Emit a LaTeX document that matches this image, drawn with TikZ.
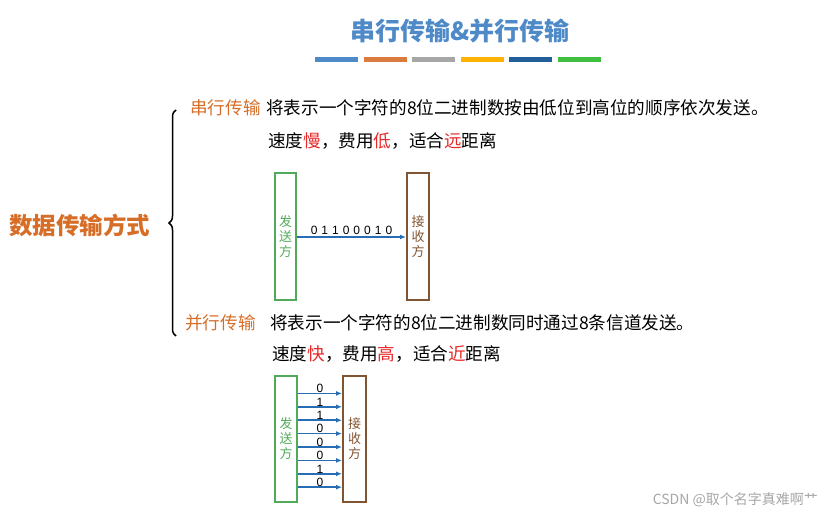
\documentclass[tikz,border=0pt]{standalone}
\usepackage{fontspec}
\setmainfont{Liberation Sans}
\newfontfamily\cjk{Noto Sans CJK SC}
\usetikzlibrary{decorations.pathreplacing,arrows.meta}
\definecolor{titleBlue}{RGB}{79,138,200}
\definecolor{termOrange}{RGB}{214,110,40}
\definecolor{keyRed}{RGB}{230,40,40}
\definecolor{sendGreen}{RGB}{80,170,90}
\definecolor{recvBrown}{RGB}{130,85,50}
\definecolor{arrowBlue}{RGB}{40,110,180}
\tikzset{
  body/.style={anchor=west, inner sep=0pt, font=\cjk\fontsize{17.6}{19}\selectfont},
  term/.style={body, text=termOrange},
  sender/.style={draw=sendGreen, line width=2pt, text=sendGreen, font=\cjk\fontsize{13}{15}\selectfont, align=center},
  receiver/.style={draw=recvBrown, line width=2pt, text=recvBrown, font=\cjk\fontsize{13}{15}\selectfont, align=center},
  wire/.style={draw=arrowBlue, line width=1.5pt, -{Latex[length=6pt,width=5pt]}},
  bit/.style={font=\fontsize{12}{12}\selectfont, inner sep=1pt}
}
\newcommand{\hl}[1]{\textcolor{keyRed}{#1}}
\begin{document}
\begin{tikzpicture}[x=1pt, y=-1pt]
\useasboundingbox (0,0) rectangle (824,518);
% title and colour bars
\node[font=\cjk\bfseries\fontsize{25}{27}\selectfont, text=titleBlue] (title) at (460,31) {串行传输\&并行传输};
\foreach \c [count=\i] in {titleBlue,termOrange!90,gray!70,orange!60!yellow,arrowBlue!85!black,green!50!gray}
  \fill[\c] ({315+(\i-1)*48.5},57) rectangle ++(43,5);
% left term and brace
\node[anchor=west, inner sep=0pt, font=\cjk\bfseries\fontsize{23.5}{26}\selectfont, text=termOrange] (kind) at (9,225) {数据传输方式};
\draw[line width=1.5pt, decorate, decoration={brace, amplitude=7pt}] (176,336) -- (176,110);
% serial
\node[term] (serial) at (190,108) {串行传输};
\node[body] (serialText) at (266,108) {将表示一个字符的8位二进制数按由低位到高位的顺序依次发送。};
\node[body] (serialProp) at (268,141) {速度\hl{慢}，费用\hl{低}，适合\hl{远}距离};
\node[sender, minimum width=21pt, minimum height=127pt] (sSend) at (285.5,236.5) {发\\送\\方};
\node[receiver, minimum width=22pt, minimum height=127pt] (sRecv) at (418,236.5) {接\\收\\方};
\draw[wire] (sSend.east |- 0,237) -- (sRecv.west |- 0,237) node[bit, midway, above=1pt, font=\fontsize{12}{12}\selectfont] {0\,\,1\,\,1\,\,0\,\,0\,\,0\,\,1\,\,0};
% parallel
\node[term] (parallel) at (185,323) {并行传输};
\node[body] (parText) at (270,323) {将表示一个字符的8位二进制数同时通过8条信道发送。};
\node[body] (parProp) at (272,354) {速度\hl{快}，费用\hl{高}，适合\hl{近}距离};
\node[sender, minimum width=22pt, minimum height=126pt] (pSend) at (286,439) {发\\送\\方};
\node[receiver, minimum width=23pt, minimum height=126pt] (pRecv) at (354.5,439) {接\\收\\方};
\foreach \b [count=\i] in {0,1,1,0,0,0,1,0}
  \draw[wire] (pSend.east |- 0,{380+\i*13.4}) -- (pRecv.west |- 0,{380+\i*13.4}) node[bit, midway, above=-1pt] {\b};
% watermark
\node[anchor=east, inner sep=0pt, text=gray!70, font=\cjk\fontsize{14}{16}\selectfont] (mark) at (818,500) {CSDN @取个名字真难啊艹};
\end{tikzpicture}
\end{document}
